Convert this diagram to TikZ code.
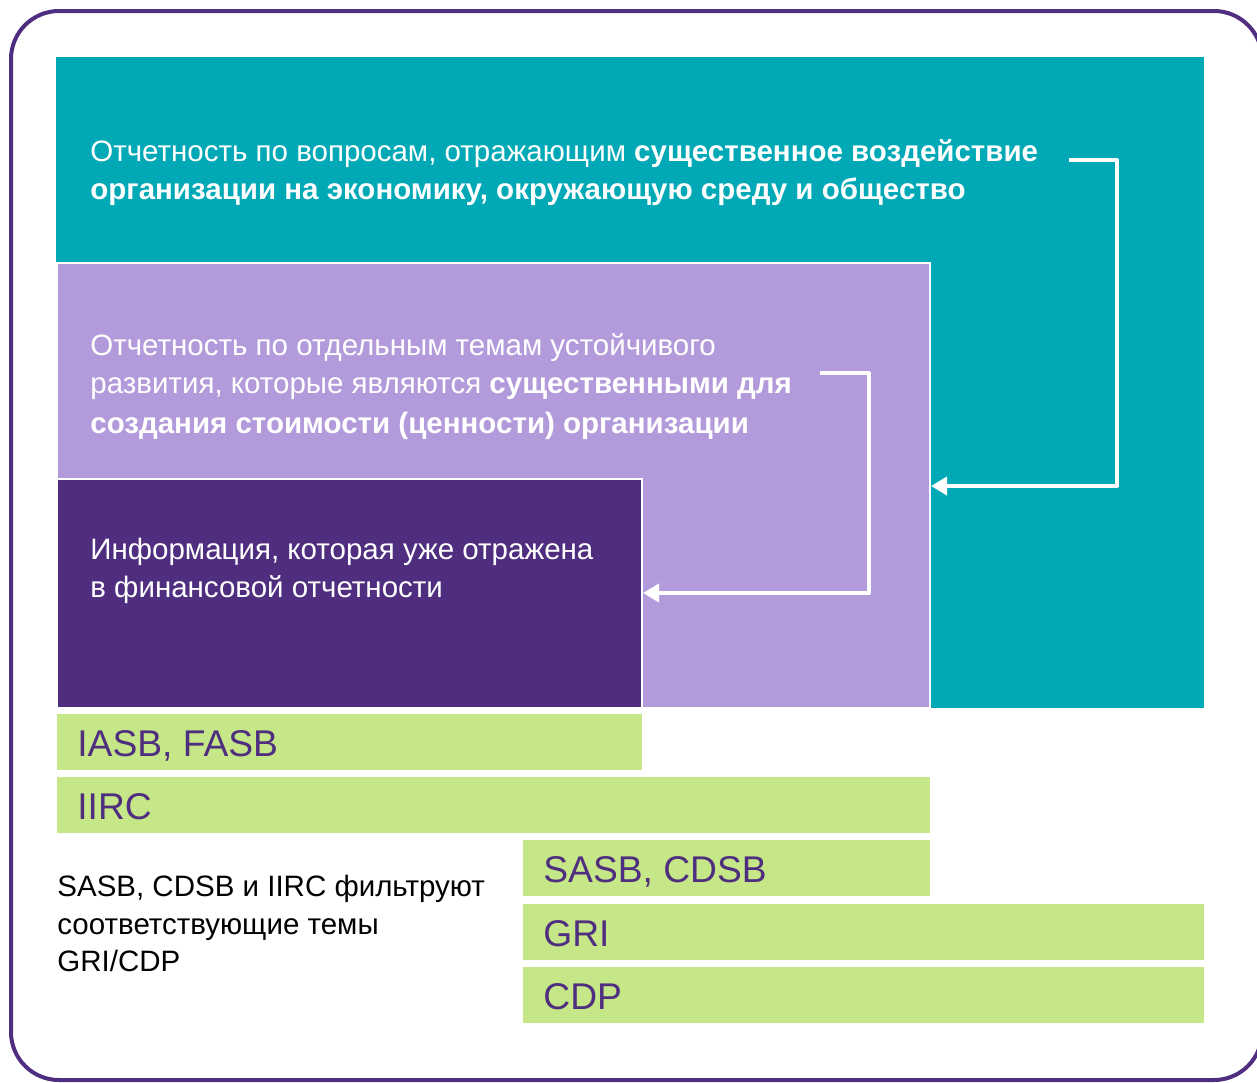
\documentclass[tikz,border=0pt]{standalone}
\usepackage{fontspec}
\setmainfont{Liberation Sans}
\usetikzlibrary{arrows.meta}
\definecolor{tealbox}{HTML}{00A9B5}
\definecolor{lilac}{HTML}{B39BDB}
\definecolor{darkpurple}{HTML}{4F2D7F}
\definecolor{limegreen}{HTML}{C5E787}
\tikzset{
  frame/.style={draw=darkpurple, line width=2pt, rounded corners=24pt},
  whitetext/.style={text=white, anchor=north west, inner sep=0pt, align=left,
    font=\fontsize{14.75}{19}\selectfont},
  darktext/.style={text=black, anchor=north west, inner sep=0pt, align=left,
    font=\fontsize{14.75}{18.75}\selectfont},
  barlabel/.style={text=darkpurple, anchor=base west, inner sep=0pt,
    font=\fontsize{18.6}{23}\selectfont},
  flow/.style={draw=white, line width=2pt, line join=round,
    -{Triangle[length=8pt,width=9pt]}},
  bar/.style={fill=limegreen}
}
\begin{document}
\begin{tikzpicture}[x=0.5pt,y=-0.5pt]
\useasboundingbox (0,0) rectangle (1257,1082);
\draw[frame] (11,11) rectangle (1262,1080);
% nested boxes
\fill[tealbox] (56,57) rectangle (1204,708);
\filldraw[fill=lilac, draw=white, line width=0.8pt] (57,263) rectangle (930,708);
\filldraw[fill=darkpurple, draw=white, line width=0.8pt] (57,479) rectangle (642,708);
% bars
\fill[bar] (57,714) rectangle (642,770);
\fill[bar] (57,777) rectangle (930,833);
\fill[bar] (523,840) rectangle (930,896);
\fill[bar] (523,904) rectangle (1204,960);
\fill[bar] (523,967) rectangle (1204,1023);
% texts
\node[whitetext] (t1) at (90,139) {Отчетность по вопросам, отражающим \textbf{существенное воздействие}\\
\textbf{организации на экономику, окружающую среду и общество}};
\node[whitetext] (t2) at (90,333) {Отчетность по отдельным темам устойчивого\\
развития, которые являются \textbf{существенными для}\\[1pt]
\textbf{создания стоимости (ценности) организации}};
\node[whitetext] (t3) at (90,538) {Информация, которая уже отражена\\
в финансовой отчетности};
\node[darktext] (t4) at (57,875) {SASB, CDSB и IIRC фильтруют\\
соответствующие темы\\
GRI/CDP};
\node[barlabel] (l1) at (77,756) {IASB, FASB};
\node[barlabel] (l2) at (77,819) {IIRC};
\node[barlabel] (l3) at (543,882) {SASB, CDSB};
\node[barlabel] (l4) at (543,946) {GRI};
\node[barlabel] (l5) at (543,1009) {CDP};
% arrows
\coordinate (a1s) at (1069,160);
\coordinate (a1e) at (931,486);
\coordinate (a2s) at (820,373);
\coordinate (a2e) at (643,593);
\draw[flow] (a1s) -- ++(48,0) |- (a1e);
\draw[flow] (a2s) -- ++(49,0) |- (a2e);
\end{tikzpicture}
\end{document}
